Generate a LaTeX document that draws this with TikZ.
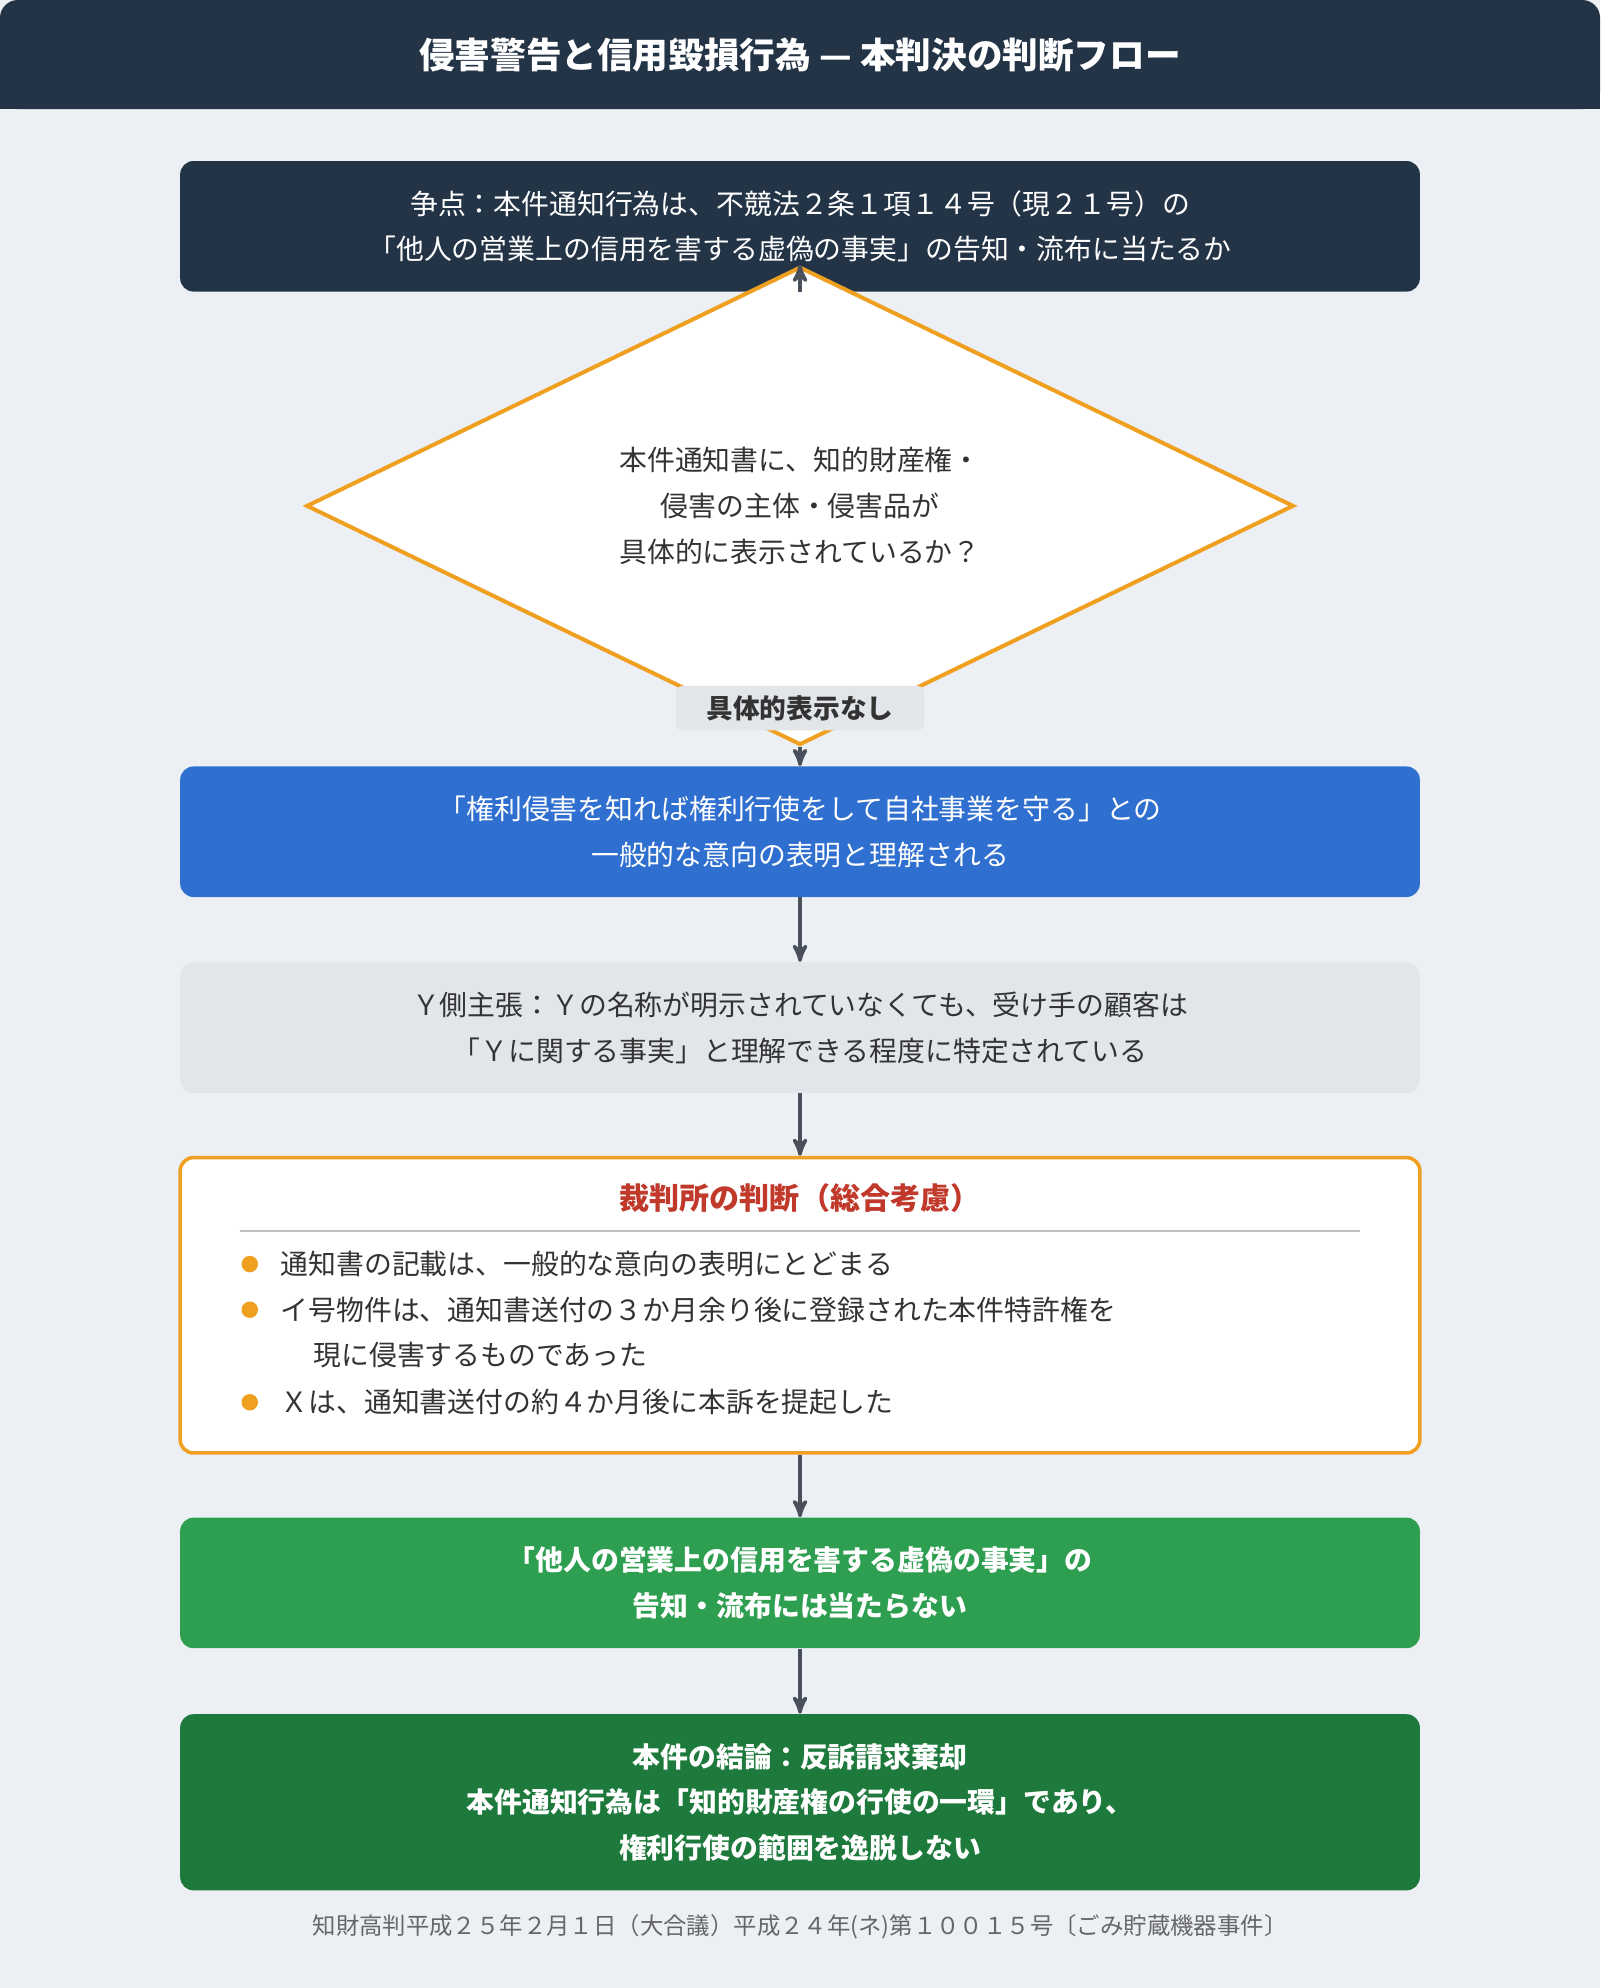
\documentclass[tikz,border=0pt]{standalone}
\usepackage{fontspec}
\setmainfont{Noto Sans CJK JP}
\usetikzlibrary{arrows,shapes.geometric}
\definecolor{navy}{HTML}{243447}
\definecolor{bgc}{HTML}{ECF0F5}
\definecolor{orng}{HTML}{F0A020}
\definecolor{blu}{HTML}{2F6FD0}
\definecolor{gry}{HTML}{E2E6EB}
\definecolor{grn}{HTML}{2E9E50}
\definecolor{dgrn}{HTML}{1E7A3C}
\definecolor{txt}{HTML}{333333}
\definecolor{redc}{HTML}{C0392B}
\definecolor{arr}{HTML}{4A4F5C}

\begin{document}
\begin{tikzpicture}[
  x=0.02cm, y=-0.02cm,
  >=stealth',
  box/.style={draw=none,rounded corners=6pt,minimum width=19.56cm,minimum height=2.06cm,align=center,inner sep=0,font=\fontsize{12.5}{20.5}\selectfont},
  flow/.style={->,arr,line width=1.6pt},
  dot/.style={circle,fill=orng,inner sep=0,minimum size=0.26cm}
  ]

  \fill[bgc] (0,0) rectangle (1262,1568);
  \useasboundingbox (0,0) rectangle (1262,1568);
  \fill[navy,rounded corners=8pt] (0,0) rectangle (1262,86);
  \fill[navy] (0,40) rectangle (1262,86);
  \node[text=white,font=\fontsize{16}{20}\bfseries] (title) at (631,43) {侵害警告と信用毀損行為 — 本判決の判断フロー};

  \node[box,fill=navy,text=white] (issue) at (631,178.5)
    {争点：本件通知行為は、不競法２条１項１４号（現２１号）の\\「他人の営業上の信用を害する虚偽の事実」の告知・流布に当たるか};

  \node[diamond,draw=orng,line width=1.8pt,fill=white,minimum width=15.58cm,minimum height=4.72cm,inner sep=0,align=center,text=txt,font=\fontsize{12.5}{20.5}\selectfont] (q) at (631,399)
    {本件通知書に、知的財産権・\\侵害の主体・侵害品が\\具体的に表示されているか？};

  \node[box,fill=blu,text=white] (gen) at (631,656)
    {「権利侵害を知れば権利行使をして自社事業を守る」との\\一般的な意向の表明と理解される};

  \node[box,fill=gry,text=txt] (ysd) at (631,810.5)
    {Ｙ側主張：Ｙの名称が明示されていなくても、受け手の顧客は\\「Ｙに関する事実」と理解できる程度に特定されている};

  \node[box,draw=orng,line width=1.6pt,fill=white,minimum height=4.66cm] (court) at (631,1029.5) {};
  \node[text=redc,font=\fontsize{13.5}{16}\bfseries] (ctitle) at (631,945) {裁判所の判断（総合考慮）};
  \draw[gray!50,line width=0.6pt] (189,971) -- (1073,971);
  \foreach \yy/\tx in {997/通知書の記載は、一般的な意向の表明にとどまる,
                       1033/イ号物件は、通知書送付の３か月余り後に登録された本件特許権を,
                       1106/Ｘは、通知書送付の約４か月後に本訴を提起した} {
    \node[dot] at (197,\yy) {};
    \node[anchor=west,inner sep=0,text=txt,font=\fontsize{12.5}{16}\selectfont] at (221,\yy) {\tx};
  }
  \node[anchor=west,inner sep=0,text=txt,font=\fontsize{12.5}{16}\selectfont] (cont) at (247,1069) {現に侵害するものであった};

  \node[box,fill=grn,text=white,font=\fontsize{12.5}{20.5}\bfseries] (res) at (631,1248.5)
    {「他人の営業上の信用を害する虚偽の事実」の\\告知・流布には当たらない};

  \node[box,fill=dgrn,text=white,minimum height=2.78cm,font=\fontsize{12.5}{20.5}\bfseries] (concl) at (631,1421.5)
    {本件の結論：反訴請求棄却\\本件通知行為は「知的財産権の行使の一環」であり、\\権利行使の範囲を逸脱しない};

  \node[text=gray!80!black,font=\fontsize{10.5}{12}\selectfont] (src) at (631,1520)
    {知財高判平成２５年２月１日（大合議）平成２４年(ネ)第１００１５号〔ごみ貯蔵機器事件〕};

  \draw[flow] (issue) -- (q);
  \draw[flow] (q.south) -- (gen.north);
  \node[fill=gry,rounded corners=3pt,minimum width=3.92cm,minimum height=0.7cm,text=txt,font=\fontsize{12}{14}\bfseries] (nolbl) at (631,558.5) {具体的表示なし};
  \draw[flow] (gen) -- (ysd);
  \draw[flow] (ysd) -- (court);
  \draw[flow] (court) -- (res);
  \draw[flow] (res) -- (concl);

\end{tikzpicture}
\end{document}
